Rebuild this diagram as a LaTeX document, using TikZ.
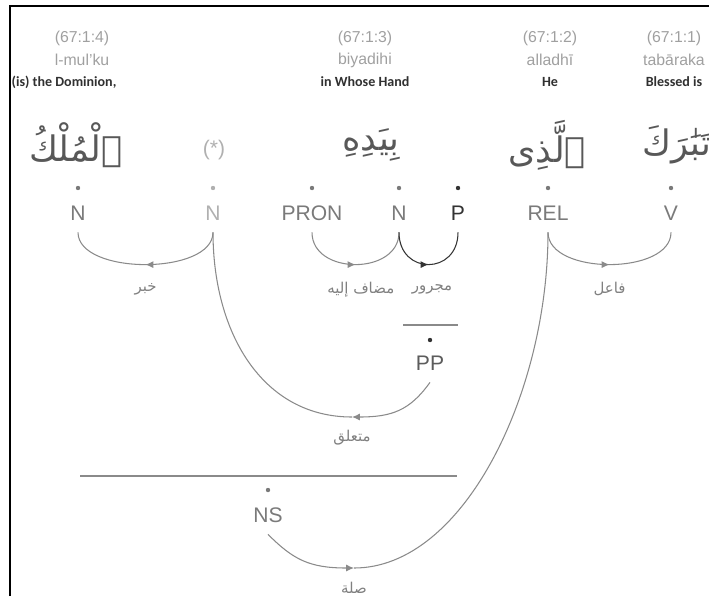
\documentclass[tikz,border=0pt]{standalone}
\usepackage{fontspec}
\setmainfont{Liberation Sans}
\newfontfamily\arabicfont[Script=Arabic]{DejaVu Sans}
\newfontfamily\glossfont{Carlito}
\TeXXeTstate=1
\usetikzlibrary{arrows.meta,decorations.markings}
\definecolor{locgray}{HTML}{A0A0A0}
\definecolor{glossgray}{HTML}{303030}
\definecolor{wordgray}{HTML}{585858}
\definecolor{taggray}{HTML}{7A7A7A}
\definecolor{stargray}{HTML}{B0B0B0}
\definecolor{darktag}{HTML}{333333}
\definecolor{arcgray}{HTML}{8A8A8A}
\definecolor{lblgray}{HTML}{808080}
\newcommand{\arb}[1]{{\arabicfont\beginR #1\endR}}
\tikzset{
  loc/.style={font=\fontsize{9}{10}\selectfont, text=locgray},
  gloss/.style={font=\glossfont\bfseries\fontsize{8}{9}\selectfont, text=glossgray},
  word/.style={font=\arabicfont\fontsize{20}{24}\selectfont, text=wordgray},
  tag/.style={font=\fontsize{12}{14}\selectfont, text=taggray, inner sep=0pt, minimum height=0.76cm},
  dot/.style={circle, fill=taggray, inner sep=0pt, minimum size=2.5pt},
  rel/.style={font=\arabicfont\fontsize{8.5}{10}\selectfont, text=lblgray},
  arc/.style={draw=arcgray, line width=0.6pt},
  tip/.style={-{Latex[length=4.5pt,width=4pt]}},
  midarrow/.style={postaction={decorate,decoration={markings,
    mark=at position 0.5 with {\arrow{Latex[length=4.5pt,width=4pt]}}}}},
}
\begin{document}
\begin{tikzpicture}[x=0.02cm,y=-0.02cm]
\useasboundingbox (0,0) rectangle (709,596);
\draw[line width=1.4pt] (10,596) -- (10,6) -- (709,6);

% word headers
\node[loc] (loc4) at (82,38) {(67:1:4)};
\node[loc] (tr4) at (82,60) {l-mul'ku};
\node[gloss] (en4) at (64,82) {(is) the Dominion,};
\node[loc] (loc3) at (365,38) {(67:1:3)};
\node[loc] (tr3) at (365,60) {biyadihi};
\node[gloss] (en3) at (365,82) {in Whose Hand};
\node[loc] (loc2) at (550,38) {(67:1:2)};
\node[loc] (tr2) at (550,60) {alladhī};
\node[gloss] (en2) at (550,82) {He};
\node[loc] (loc1) at (674,38) {(67:1:1)};
\node[loc] (tr1) at (674,60) {tabāraka};
\node[gloss] (en1) at (674,82) {Blessed is};

% arabic words
\node[word] (w4) at (76,145) {\arb{ٱلْمُلْكُ}};
\node[loc, font=\fontsize{12}{14}\selectfont, text=stargray] (wstar) at (214,150) {(*)};
\node[word] (w3) at (371,145) {\arb{بِيَدِهِ}};
\node[word] (w2) at (547,145) {\arb{ٱلَّذِى}};
\node[word] (w1) at (677,145) {\arb{تَبَٰرَكَ}};

% tags
\foreach \nm/\xx/\lbl in {n4/78/N, pron/312/PRON, n3/399/N, rel/548/REL, v/671/V} {
  \node[dot] (d\nm) at (\xx,188) {};
  \node[tag] (\nm) at (\xx,213) {\lbl};
}
\node[dot, fill=stargray] (dnstar) at (213,188) {};
\node[tag, text=stargray] (nstar) at (213,213) {N};
\node[dot, fill=darktag] (dp) at (458,188) {};
\node[tag, text=darktag] (p) at (458,213) {P};

% phrase nodes
\draw[arcgray, line width=0.8pt] (403,325) -- (458,325);
\node[dot, fill=darktag] (dpp) at (430,340) {};
\node[tag, text=darktag!80] (pp) at (430,363) {PP};
\draw[arcgray, line width=0.8pt] (80,476) -- (457,476);
\node[dot] (dns) at (268,490) {};
\node[tag] (ns) at (268,515) {NS};

% relations
\draw[arc, midarrow] (nstar.south) .. controls +(0,43) and +(0,43) .. (n4.south)
  node[rel, pos=0.5, yshift=-14pt] {\arb{خبر}};
\draw[arc, midarrow] (pron.south) .. controls +(0,43) and +(0,43) .. (n3.south)
  node[rel, pos=0.5, yshift=-14pt, xshift=3pt] {\arb{مضاف إليه}};
\draw[arc, midarrow, draw=darktag] (n3.south) .. controls +(0,43) and +(0,43) .. (p.south)
  node[rel, pos=0.5, yshift=-14pt, xshift=2pt] {\arb{مجرور}};
\draw[arc, midarrow] (rel.south) .. controls +(0,43) and +(0,43) .. (v.south)
  node[rel, pos=0.5, yshift=-14pt] {\arb{فاعل}};

\coordinate (ppbend) at (352,417);
\draw[arc, tip] (pp.south) .. controls +(-20,28) and +(40,0) .. (ppbend)
  node[rel, pos=1, yshift=-12pt] {\arb{متعلق}};
\draw[arc] (ppbend) .. controls +(-90,0) and +(0,100) .. (nstar.south);

\coordinate (nsbend) at (354,568);
\draw[arc, tip] (ns.south) .. controls +(25,25) and +(-45,0) .. (nsbend)
  node[rel, pos=1, yshift=-11pt] {\arb{صلة}};
\draw[arc] (nsbend) .. controls +(110,0) and +(0,160) .. (rel.south);
\end{tikzpicture}
\end{document}
